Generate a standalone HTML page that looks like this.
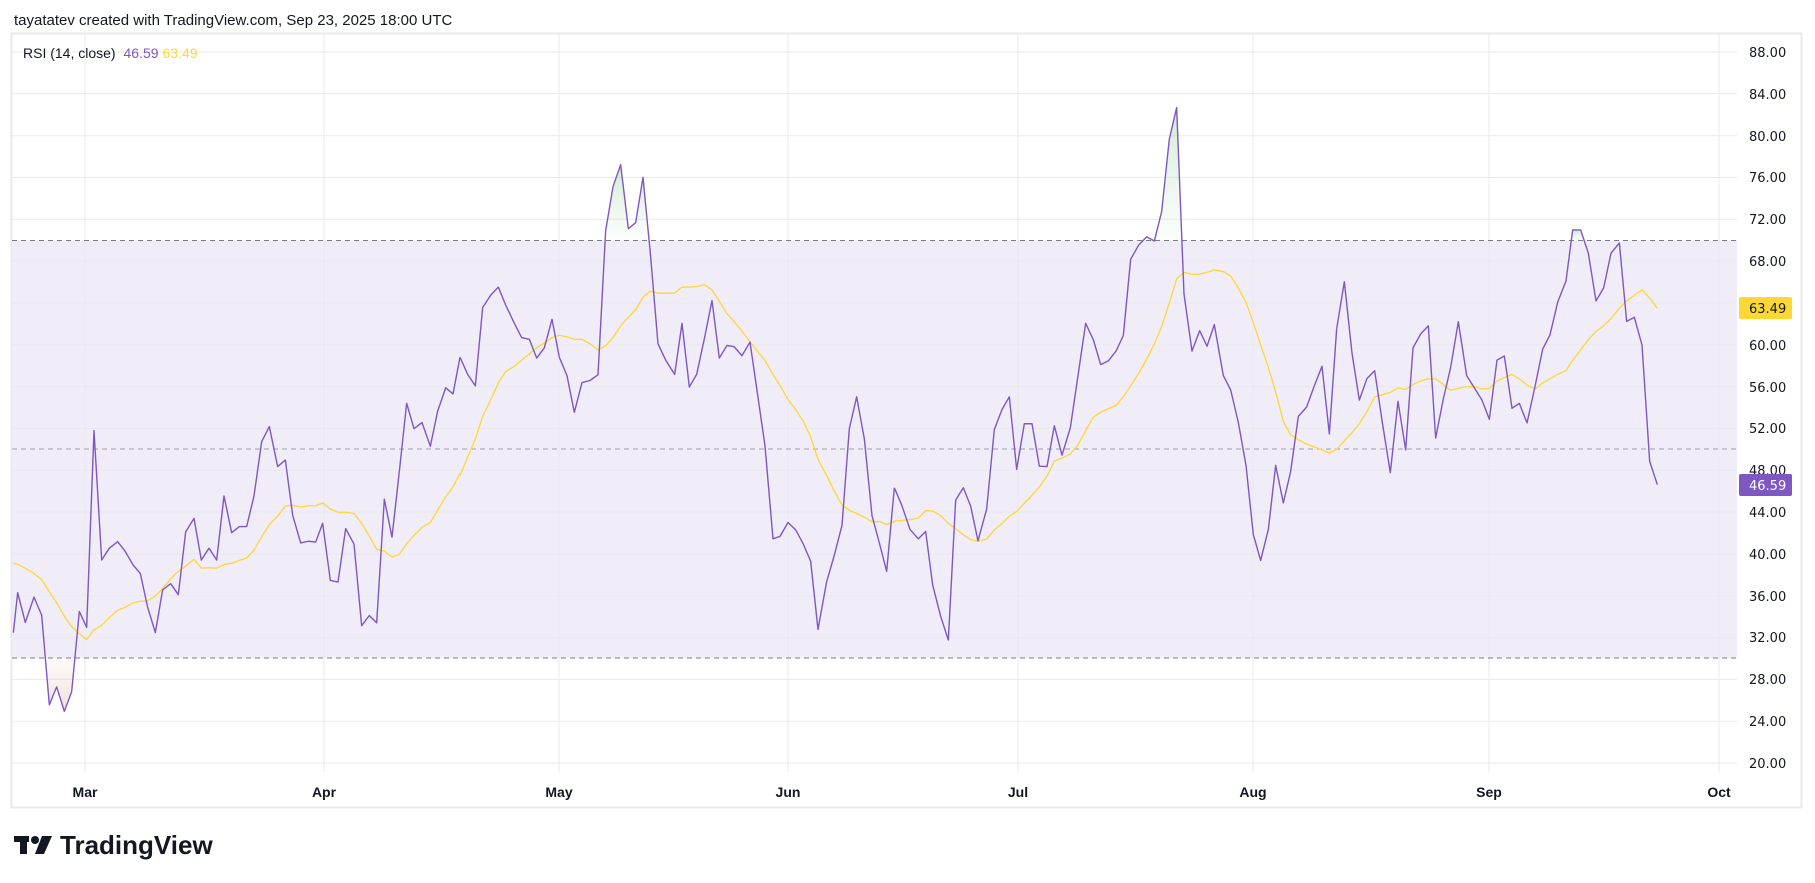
<!DOCTYPE html>
<html><head><meta charset="utf-8"><style>
html,body{margin:0;padding:0;background:#fff;}
svg{display:block;font-family:"Liberation Sans",sans-serif;}
</style></head><body>
<svg width="1815" height="883" viewBox="0 0 1815 883" xmlns="http://www.w3.org/2000/svg">
<defs>
<clipPath id="ob"><rect x="12" y="0" width="1725" height="240.5"/></clipPath>
<clipPath id="os"><rect x="12" y="658" width="1725" height="150"/></clipPath>
<linearGradient id="gg" x1="0" y1="0" x2="0" y2="1"><stop offset="0" stop-color="#a5d6a7" stop-opacity="0.5"/><stop offset="1" stop-color="#c8e6c9" stop-opacity="0.08"/></linearGradient>
<linearGradient id="rg" x1="0" y1="1" x2="0" y2="0"><stop offset="0" stop-color="#d7b9a0" stop-opacity="0.4"/><stop offset="1" stop-color="#d7b9a0" stop-opacity="0.05"/></linearGradient>
</defs>
<text x="14" y="25" font-size="15" fill="#131722">tayatatev created with TradingView.com, Sep 23, 2025 18:00 UTC</text>
<rect x="11.5" y="33.5" width="1790" height="774" fill="none" stroke="#e8e9ee" stroke-width="2"/>
<rect x="12" y="240.5" width="1725" height="417.5" fill="#f0ecf8"/>
<g stroke="#e9e9ee" stroke-width="1">
<line x1="12" x2="1737" y1="52" y2="52"/><line x1="12" x2="1737" y1="93.8" y2="93.8"/><line x1="12" x2="1737" y1="135.7" y2="135.7"/><line x1="12" x2="1737" y1="177.5" y2="177.5"/><line x1="12" x2="1737" y1="219.3" y2="219.3"/><line x1="12" x2="1737" y1="261.1" y2="261.1"/><line x1="12" x2="1737" y1="303" y2="303"/><line x1="12" x2="1737" y1="344.8" y2="344.8"/><line x1="12" x2="1737" y1="386.6" y2="386.6"/><line x1="12" x2="1737" y1="428.4" y2="428.4"/><line x1="12" x2="1737" y1="470.3" y2="470.3"/><line x1="12" x2="1737" y1="512.1" y2="512.1"/><line x1="12" x2="1737" y1="553.9" y2="553.9"/><line x1="12" x2="1737" y1="595.7" y2="595.7"/><line x1="12" x2="1737" y1="637.5" y2="637.5"/><line x1="12" x2="1737" y1="679.4" y2="679.4"/><line x1="12" x2="1737" y1="721.2" y2="721.2"/><line x1="12" x2="1737" y1="763" y2="763"/>
</g>
<g stroke="#e9e9ee" stroke-width="1">
<line x1="85" x2="85" y1="34" y2="772"/><line x1="324" x2="324" y1="34" y2="772"/><line x1="559" x2="559" y1="34" y2="772"/><line x1="788" x2="788" y1="34" y2="772"/><line x1="1018" x2="1018" y1="34" y2="772"/><line x1="1253" x2="1253" y1="34" y2="772"/><line x1="1489" x2="1489" y1="34" y2="772"/><line x1="1719" x2="1719" y1="34" y2="772"/>
</g>
<g stroke="#787b86" stroke-width="1" stroke-dasharray="5,4">
<line x1="12" x2="1737" y1="240.5" y2="240.5"/>
<line x1="12" x2="1737" y1="658" y2="658"/>
</g>
<line x1="12" x2="1737" y1="449" y2="449" stroke="#9ea0a8" stroke-width="1" stroke-dasharray="5,4"/>

<g clip-path="url(#ob)">
<g transform="translate(440,90) scale(0.33333,0.408)"><polygon fill="url(#gg)" points="492,370 497,345 519,237 542,183 565,340 587,325 609,214 627,370"/></g>
<g transform="translate(880,90) scale(0.33333,0.408)"><polygon fill="url(#gg)" points="818,370 823,370 845,298 868,120 890,43 906,370"/></g>
<g transform="translate(1320,90) scale(0.33333,0.408)"><polygon fill="url(#gg)" points="753,370 758,343 782,343 793,370"/></g>
</g>
<g clip-path="url(#os)">
<g transform="translate(0,90) scale(0.33333,0.408)"><polygon fill="url(#rg)" points="136,1392 148,1507 170,1463 193,1523 215,1475 224,1392"/></g>
</g>

<g fill="none" stroke="#fdd835" stroke-width="1.3" stroke-linejoin="round">
<g transform="translate(0,90) scale(0.33333,0.408)"><polyline vector-effect="non-scaling-stroke" points="40,1160 53,1162 76,1172 102,1185 125,1200 148,1230 170,1257 193,1290 215,1315 238,1332 260,1347 282,1323 305,1312 328,1293 353,1275 375,1268 400,1257 421,1253 443,1252 466,1240 488,1222 512,1198 535,1180 557,1167 582,1150 604,1172 627,1171 650,1172 672,1163 695,1160 718,1153 740,1147 762,1128 785,1095 808,1065 833,1045 856,1020 878,1018 902,1022 925,1019 947,1019 968,1012 991,1027 1014,1035 1037,1035 1062,1038 1085,1062 1108,1093 1130,1126 1153,1130 1176,1145 1198,1138 1220,1112 1242,1092 1266,1072 1291,1060 1313,1030 1337,997 1359,973 1380,940"/></g>
<g transform="translate(440,90) scale(0.33333,0.408)"><polyline vector-effect="non-scaling-stroke" points="60,945 83,900 106,855 128,800 152,760 175,718 197,690 222,678 245,662 268,647 290,632 313,620 336,607 358,601 381,605 403,611 426,611 450,622 474,637 497,627 519,607 542,578 565,557 587,538 609,508 631,493 654,498 677,498 704,498 726,483 748,483 770,482 793,477 816,490 838,518 861,548 882,567 906,591 930,617 952,640 975,663 999,697 1020,724 1044,758 1067,783 1090,812 1112,850 1134,905 1160,945 1183,983 1206,1017 1228,1030 1250,1038 1273,1047 1296,1058 1318,1058 1340,1065 1363,1058"/></g>
<g transform="translate(880,90) scale(0.33333,0.408)"><polyline vector-effect="non-scaling-stroke" points="20,1065 43,1057 65,1055 90,1053 115,1049 137,1031 158,1032 182,1043 205,1062 227,1075 250,1090 272,1102 294,1106 320,1101 343,1078 366,1063 388,1045 410,1033 433,1013 456,993 478,973 501,947 523,910 546,902 571,892 594,870 617,835 640,802 662,790 685,781 708,773 730,752 752,725 776,695 800,660 823,622 845,580 868,522 890,463 912,447 936,452 959,451 981,447 1003,441 1030,445 1052,456 1075,485 1098,520 1120,570 1142,625 1165,680 1187,740 1210,812 1232,845 1255,857 1280,868 1303,875 1326,882 1348,890 1370,880"/></g>
<g transform="translate(1320,90) scale(0.33333,0.408)"><polyline vector-effect="non-scaling-stroke" points="50,881 73,860 96,840 118,818 141,788 164,752 187,747 211,741 234,730 257,734 279,722 302,713 325,708 347,708 370,722 392,736 415,731 440,727 463,727 486,733 508,732 531,713 553,705 576,697 598,708 621,723 645,733 668,718 690,708 713,697 738,688 758,662 782,637 805,612 828,592 851,578 873,560 898,535 920,517 943,503 966,490 989,510 1012,535"/></g>
</g>

<g fill="none" stroke="#7e57c2" stroke-width="1.4" stroke-linejoin="round">
<g transform="translate(0,90) scale(0.33333,0.408)"><polyline vector-effect="non-scaling-stroke" points="40,1330 53,1232 76,1305 102,1243 125,1287 148,1507 170,1463 193,1523 215,1475 238,1278 260,1317 282,835 305,1152 328,1123 353,1107 375,1130 400,1165 421,1185 443,1268 466,1330 488,1225 512,1210 535,1237 557,1083 582,1050 604,1152 627,1123 650,1152 672,995 695,1085 718,1070 740,1070 762,995 785,862 808,825 833,923 856,907 878,1042 902,1110 925,1106 947,1108 968,1062 991,1202 1014,1206 1037,1075 1062,1113 1085,1313 1108,1288 1130,1306 1153,1003 1176,1096 1198,935 1220,768 1242,830 1266,815 1291,873 1313,787 1337,730 1359,745 1380,655"/></g>
<g transform="translate(440,90) scale(0.33333,0.408)"><polyline vector-effect="non-scaling-stroke" points="60,655 83,697 106,725 128,533 152,503 175,483 197,527 222,570 245,607 268,611 290,657 313,632 336,562 358,655 381,700 403,790 426,717 450,712 474,698 497,345 519,237 542,183 565,340 587,325 609,214 631,400 654,622 677,662 704,697 726,572 748,728 770,697 793,610 816,516 838,657 861,626 882,629 906,651 930,618 952,742 975,872 999,1100 1020,1094 1044,1060 1067,1078 1090,1113 1112,1155 1134,1322 1160,1205 1183,1140 1206,1067 1228,830 1250,752 1273,855 1296,1043 1318,1110 1340,1180 1363,975"/></g>
<g transform="translate(880,90) scale(0.33333,0.408)"><polyline vector-effect="non-scaling-stroke" points="43,975 65,1017 90,1077 115,1100 137,1082 158,1213 182,1290 205,1348 227,1005 250,975 272,1020 294,1105 320,1027 343,832 366,783 388,752 410,930 433,818 456,818 478,922 501,923 523,823 546,895 571,828 594,700 617,572 640,612 662,673 685,664 708,640 730,602 752,415 776,380 800,360 823,370 845,298 868,120 890,43 912,500 936,640 959,590 981,628 1003,575 1030,700 1052,735 1075,815 1098,920 1120,1090 1142,1153 1165,1077 1187,920 1210,1012 1232,935 1255,800 1280,777 1303,725 1326,677 1348,843 1370,585"/></g>
<g transform="translate(1320,90) scale(0.33333,0.408)"><polyline vector-effect="non-scaling-stroke" points="50,585 73,470 96,645 118,760 141,707 164,688 187,815 211,938 234,763 257,882 279,632 302,598 325,578 347,853 370,757 392,680 415,568 440,700 463,730 486,760 508,807 531,662 553,652 576,780 598,768 621,816 645,727 668,635 690,600 713,520 738,468 758,343 782,343 805,400 828,517 851,485 873,400 898,375 920,567 943,557 966,625 989,910 1012,967"/></g>
</g>

<text x="23" y="58" font-size="14" fill="#131722">RSI (14, close) <tspan fill="#7e57c2" dx="4">46.59</tspan><tspan fill="#fdd835" dx="4">63.49</tspan></text>

<g font-size="13" fill="#131722" font-family="DejaVu Sans, sans-serif">
<text x="1749" y="57">88.00</text><text x="1749" y="99">84.00</text><text x="1749" y="141">80.00</text><text x="1749" y="182">76.00</text><text x="1749" y="224">72.00</text><text x="1749" y="266">68.00</text><text x="1749" y="350">60.00</text><text x="1749" y="392">56.00</text><text x="1749" y="433">52.00</text><text x="1749" y="475">48.00</text><text x="1749" y="517">44.00</text><text x="1749" y="559">40.00</text><text x="1749" y="601">36.00</text><text x="1749" y="642">32.00</text><text x="1749" y="684">28.00</text><text x="1749" y="726">24.00</text><text x="1749" y="768">20.00</text>
</g>
<rect x="1739" y="297" width="53" height="22" rx="2" fill="#fdd835"/>
<text x="1749" y="313" font-size="13" fill="#131722" font-family="DejaVu Sans, sans-serif">63.49</text>
<rect x="1739" y="474" width="53" height="22" rx="2" fill="#7e57c2"/>
<text x="1749" y="490" font-size="13" fill="#fff" font-family="DejaVu Sans, sans-serif">46.59</text>

<g font-size="14" fill="#131722" text-anchor="middle" font-weight="bold">
<text x="85" y="797">Mar</text><text x="324" y="797">Apr</text><text x="559" y="797">May</text><text x="788" y="797">Jun</text><text x="1018" y="797">Jul</text><text x="1253" y="797">Aug</text><text x="1489" y="797">Sep</text><text x="1719" y="797">Oct</text>
</g>

<g fill="#131722">
<rect x="14" y="836" width="15" height="6"/><rect x="20" y="836" width="7" height="18"/>
<circle cx="35" cy="840" r="4"/>
<polygon points="42,836 52,836 44,854 35,854"/>
</g>
<text x="60" y="854" font-size="26" font-weight="bold" fill="#131722">TradingView</text>
</svg>
</body></html>
